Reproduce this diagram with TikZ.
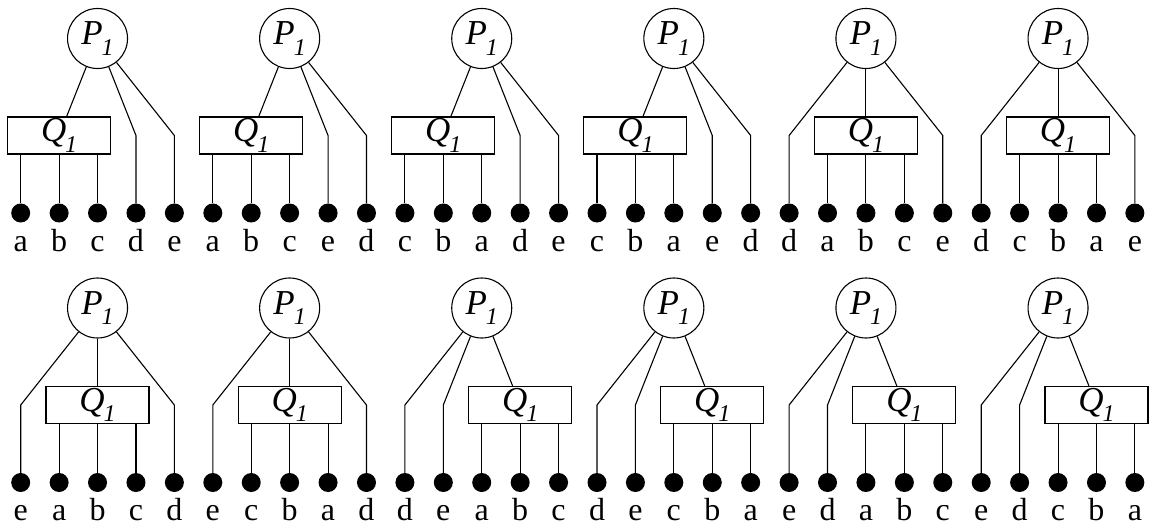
\documentclass[tikz,border=0pt]{standalone}
\usepackage{fontspec}
\setmainfont{Liberation Serif}
% italic symbol with an italic subscript 1
\newcommand\symsub[1]{\textit{#1}\kern-0.03em\raisebox{-0.30em}{\fontsize{24}{24}\selectfont\itshape 1}}
\begin{document}
\begin{tikzpicture}[x=1pt,y=-1pt,
  edge/.style={line width=1.1pt},
  rootnode/.style={circle,draw,line width=1.1pt,minimum size=60pt,inner sep=0pt,
    font=\fontsize{35}{35}\selectfont},
  groupnode/.style={draw,line width=1.1pt,minimum width=103pt,minimum height=37pt,inner sep=0pt,
    font=\fontsize{35}{35}\selectfont},
  leaf/.style={circle,fill=black,inner sep=0pt,minimum size=19pt},
  leaflabel/.style={anchor=base,inner sep=0pt,font=\fontsize{32}{32}\selectfont}]
\useasboundingbox (0,0) rectangle (1149,525);
% column / row / first leaf under Q / leaf order
\foreach \col/\r/\q/\labs in {
  0/0/0/{a,b,c,d,e}, 1/0/0/{a,b,c,e,d}, 2/0/0/{c,b,a,d,e},
  3/0/0/{c,b,a,e,d}, 4/0/1/{d,a,b,c,e}, 5/0/1/{d,c,b,a,e},
  0/1/1/{e,a,b,c,d}, 1/1/1/{e,c,b,a,d}, 2/1/2/{d,e,a,b,c},
  3/1/2/{d,e,c,b,a}, 4/1/2/{e,d,a,b,c}, 5/1/2/{e,d,c,b,a}}{
  \pgfmathsetmacro\xz{20.7+5*\col*38.42}
  \pgfmathsetmacro\dy{\r*269.5}
  \node[rootnode] (P-\col-\r) at ({\xz+2*38.42},{38.5+\dy}) {\symsub{P}};
  \node[groupnode] (Q-\col-\r) at ({\xz+(\q+1)*38.42},{135.5+\dy}) {\symsub{Q}};
  \draw[edge] (P-\col-\r) -- (Q-\col-\r);
  \foreach \lab [count=\i from 0] in \labs {
    \node[leaf] (d-\col-\r-\i) at ({\xz+\i*38.42},{213+\dy}) {};
    \node[leaflabel] (l-\col-\r-\i) at ({\xz+\i*38.42},{251+\dy}) {\lab};
    \ifnum\i<\q
      \coordinate (b-\col-\r-\i) at ({\xz+\i*38.42},{135.5+\dy});
      \draw[edge] (P-\col-\r) -- (b-\col-\r-\i) -- (d-\col-\r-\i);
    \else\ifnum\i>\numexpr\q+2\relax
      \coordinate (b-\col-\r-\i) at ({\xz+\i*38.42},{135.5+\dy});
      \draw[edge] (P-\col-\r) -- (b-\col-\r-\i) -- (d-\col-\r-\i);
    \else
      \draw[edge] (d-\col-\r-\i |- Q-\col-\r.south) -- (d-\col-\r-\i);
    \fi\fi
  }
}
\end{tikzpicture}
\end{document}
